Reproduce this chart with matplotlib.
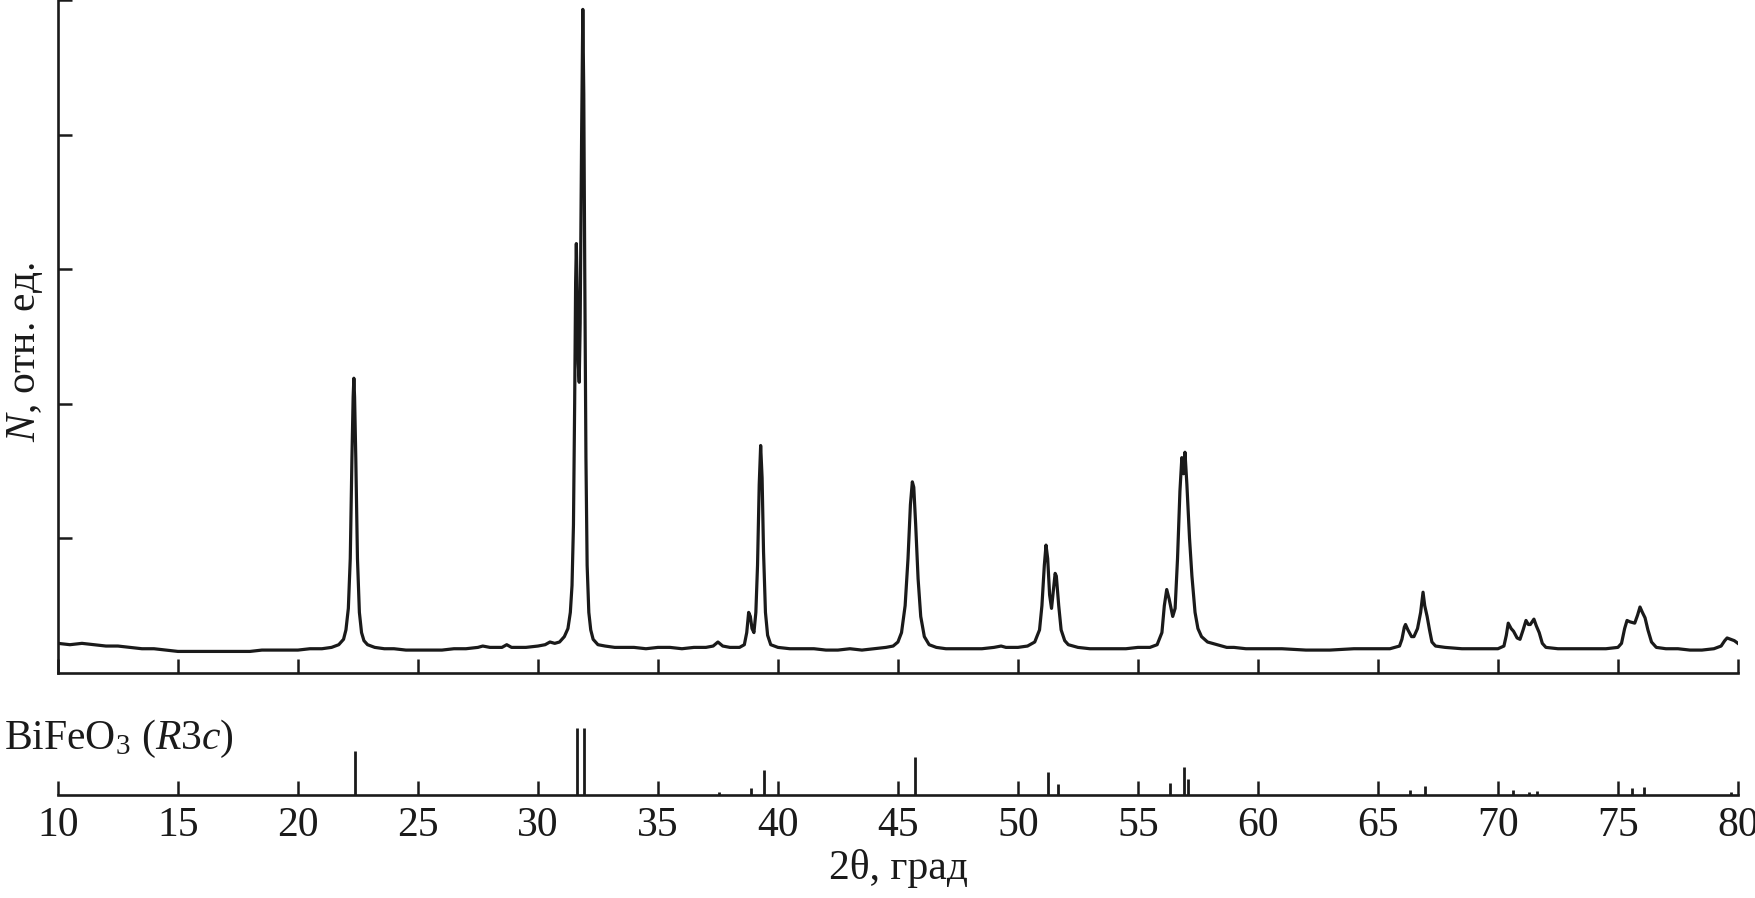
#!/usr/bin/env python3
"""XRD pattern of BiFeO3 with reference bar pattern (R3c)."""

import matplotlib
matplotlib.use('Agg')
import matplotlib.pyplot as plt

plt.rcParams['font.family'] = ['Liberation Serif', 'DejaVu Serif']
plt.rcParams['mathtext.fontset'] = 'custom'
plt.rcParams['mathtext.rm'] = 'Liberation Serif'
plt.rcParams['mathtext.it'] = 'Liberation Serif:italic'

# ── Data ──
# measured pattern: 2theta (deg) and intensity (arb. units, one y-tick = 1)
two_theta = [
    10.0, 10.5, 11.0, 11.5, 12.0, 12.5, 13.0, 13.5, 14.0, 14.5, 15.0, 15.5, 16.0,
    16.5, 17.0, 17.5, 18.0, 18.5, 19.0, 19.5, 20.0, 20.5, 21.0, 21.4, 21.7, 21.9,
    22.0, 22.1, 22.18, 22.25, 22.3, 22.33, 22.36, 22.41, 22.48, 22.56, 22.65, 22.75,
    22.9, 23.2, 23.6, 24.0, 24.5, 25.0, 25.5, 26.0, 26.5, 27.0, 27.5, 27.7, 28.0,
    28.5, 28.7, 28.9, 29.5, 30.0, 30.3, 30.5, 30.7, 30.9, 31.1, 31.25, 31.35, 31.42,
    31.48, 31.53, 31.57, 31.6, 31.64, 31.68, 31.72, 31.76, 31.82, 31.87, 31.91,
    31.95, 32.0, 32.05, 32.12, 32.2, 32.3, 32.5, 32.8, 33.2, 33.6, 34.0, 34.5, 35.0,
    35.5, 36.0, 36.5, 37.0, 37.3, 37.5, 37.7, 38.0, 38.4, 38.6, 38.7, 38.78, 38.85,
    38.92, 39.0, 39.08, 39.15, 39.22, 39.28, 39.34, 39.4, 39.48, 39.57, 39.7, 40.0,
    40.5, 41.0, 41.5, 42.0, 42.5, 43.0, 43.5, 44.0, 44.5, 44.8, 45.0, 45.15, 45.3,
    45.42, 45.52, 45.6, 45.66, 45.74, 45.84, 45.95, 46.1, 46.3, 46.6, 47.0, 47.5,
    48.0, 48.5, 49.0, 49.3, 49.5, 50.0, 50.4, 50.7, 50.9, 51.0, 51.1, 51.17, 51.24,
    51.32, 51.4, 51.47, 51.55, 51.6, 51.7, 51.8, 51.95, 52.1, 52.5, 53.0, 53.5,
    54.0, 54.5, 55.0, 55.5, 55.8, 56.0, 56.1, 56.2, 56.3, 56.45, 56.55, 56.65,
    56.75, 56.83, 56.9, 56.96, 57.04, 57.15, 57.25, 57.38, 57.5, 57.65, 57.9, 58.3,
    58.7, 59.0, 59.5, 60.0, 61.0, 62.0, 63.0, 64.0, 65.0, 65.5, 65.9, 66.0, 66.1,
    66.15, 66.25, 66.4, 66.5, 66.65, 66.78, 66.88, 66.95, 67.05, 67.15, 67.25, 67.4,
    67.8, 68.5, 69.0, 69.5, 70.0, 70.25, 70.35, 70.43, 70.55, 70.65, 70.8, 70.92,
    71.05, 71.17, 71.27, 71.35, 71.5, 71.6, 71.72, 71.85, 72.0, 72.5, 73.0, 73.5,
    74.0, 74.5, 75.0, 75.15, 75.28, 75.38, 75.5, 75.7, 75.82, 75.92, 76.02, 76.13,
    76.25, 76.4, 76.6, 77.0, 77.5, 78.0, 78.5, 79.0, 79.3, 79.45, 79.55, 79.7,
    79.85, 80.0,
]
intensity = [
    0.22, 0.21, 0.22, 0.21, 0.20, 0.20, 0.19, 0.18, 0.18, 0.17, 0.16, 0.16, 0.16,
    0.16, 0.16, 0.16, 0.16, 0.17, 0.17, 0.17, 0.17, 0.18, 0.18, 0.19, 0.21, 0.25,
    0.32, 0.48, 0.85, 1.60, 2.05, 2.19, 2.05, 1.60, 0.85, 0.45, 0.30, 0.24,
    0.21, 0.19, 0.18, 0.18, 0.17, 0.17, 0.17, 0.17, 0.18, 0.18, 0.19, 0.20, 0.19,
    0.19, 0.21, 0.19, 0.19, 0.20, 0.21, 0.23, 0.22, 0.23, 0.27, 0.33, 0.45, 0.65,
    1.10, 2.00, 2.90, 3.19, 2.80, 2.30, 2.16, 2.60, 4.00, 4.93, 4.30,
    3.00, 1.60, 0.80, 0.45, 0.32, 0.25, 0.21, 0.20, 0.19, 0.19, 0.19, 0.18, 0.19,
    0.19, 0.18, 0.19, 0.19, 0.20, 0.23, 0.20, 0.19, 0.19, 0.21, 0.30, 0.45, 0.42,
    0.33, 0.30, 0.45, 0.80, 1.40, 1.69, 1.45, 0.90, 0.45, 0.28, 0.21, 0.19,
    0.18, 0.18, 0.18, 0.17, 0.17, 0.18, 0.17, 0.18, 0.19, 0.20, 0.23, 0.30, 0.50,
    0.85, 1.25, 1.42, 1.38, 1.10, 0.70, 0.42, 0.27, 0.21, 0.19, 0.18, 0.18,
    0.18, 0.18, 0.19, 0.20, 0.19, 0.19, 0.20, 0.23, 0.32, 0.50, 0.80, 0.95, 0.85,
    0.58, 0.48, 0.60, 0.74, 0.72, 0.50, 0.32, 0.24, 0.21, 0.19, 0.18, 0.18,
    0.18, 0.18, 0.19, 0.19, 0.21, 0.30, 0.50, 0.62, 0.55, 0.42, 0.48, 0.85,
    1.35, 1.60, 1.48, 1.64, 1.40, 1.00, 0.72, 0.45, 0.33, 0.27, 0.23, 0.21,
    0.19, 0.19, 0.18, 0.18, 0.18, 0.17, 0.17, 0.18, 0.18, 0.18, 0.20, 0.25, 0.34,
    0.36, 0.32, 0.27, 0.27, 0.33, 0.45, 0.60, 0.50, 0.42, 0.32, 0.23, 0.20,
    0.19, 0.18, 0.18, 0.18, 0.18, 0.20, 0.28, 0.37, 0.33, 0.31, 0.26, 0.25,
    0.32, 0.39, 0.36, 0.36, 0.40, 0.35, 0.30, 0.22, 0.19, 0.18, 0.18, 0.18,
    0.18, 0.18, 0.19, 0.22, 0.33, 0.39, 0.38, 0.37, 0.43, 0.49, 0.45, 0.41,
    0.32, 0.23, 0.19, 0.18, 0.18, 0.17, 0.17, 0.18, 0.20, 0.24, 0.26, 0.25,
    0.24, 0.22,
]

# reference bar pattern BiFeO3 (R3c): positions and relative intensities
ref_pos = [22.37, 31.62, 31.92, 37.55, 38.88, 39.42, 45.72, 51.26, 51.67,
           56.34, 56.92, 57.10, 66.33, 66.98, 70.62, 71.29, 71.63, 75.58,
           76.07, 79.73]
ref_int = [65, 100, 100, 4, 11, 37, 57, 34, 16,
           18, 42, 24, 8, 14, 8, 5, 6, 10,
           12, 4]

x_ticks = list(range(10, 81, 5))
y_ticks = [1, 2, 3, 4, 5]

FS = 30
INK = '#1a1a1a'

fig = plt.figure(figsize=(17.56, 8.98), dpi=100)

# ── upper panel: measured pattern ──
ax = fig.add_axes([0.0330, 0.2506, 0.9567, 0.7494])
ax.plot(two_theta, intensity, color=INK, lw=2.3)
ax.set_xlim(10, 80)
ax.set_ylim(0, 5)
ax.set_xticks(x_ticks)
ax.set_yticks(y_ticks)
ax.tick_params(direction='in', length=10, width=1.8, labelbottom=False,
               labelleft=False, colors=INK)
for s in ('top', 'right'):
    ax.spines[s].set_visible(False)
for s in ('left', 'bottom'):
    ax.spines[s].set_linewidth(1.9)
    ax.spines[s].set_color(INK)

# ── lower panel: reference sticks ──
ax2 = fig.add_axes([0.0330, 0.1147, 0.9567, 0.0835])
ax2.vlines(ref_pos, 0, ref_int, color=INK, lw=2.0)
ax2.set_xlim(10, 80)
ax2.set_ylim(0, 112)
ax2.set_xticks(x_ticks)
ax2.set_yticks([])
ax2.tick_params(axis='x', direction='in', length=10, width=1.8, pad=8,
                labelsize=FS, colors=INK)
for s in ('top', 'right', 'left'):
    ax2.spines[s].set_visible(False)
ax2.spines['bottom'].set_linewidth(1.9)
ax2.spines['bottom'].set_color(INK)

fig.text(0.002, 0.177, 'BiFeO$_3$ ($R$3$c$)', fontsize=FS, ha='left',
         va='center', color=INK)
fig.text(0.5114, 0.0334, '2θ, град', fontsize=FS, ha='center', va='center',
         color=INK)
fig.text(0.0142, 0.608, '$N$, отн. ед.', fontsize=FS, rotation=90,
         ha='center', va='center', color=INK)

fig.savefig('out.png', dpi=100)
